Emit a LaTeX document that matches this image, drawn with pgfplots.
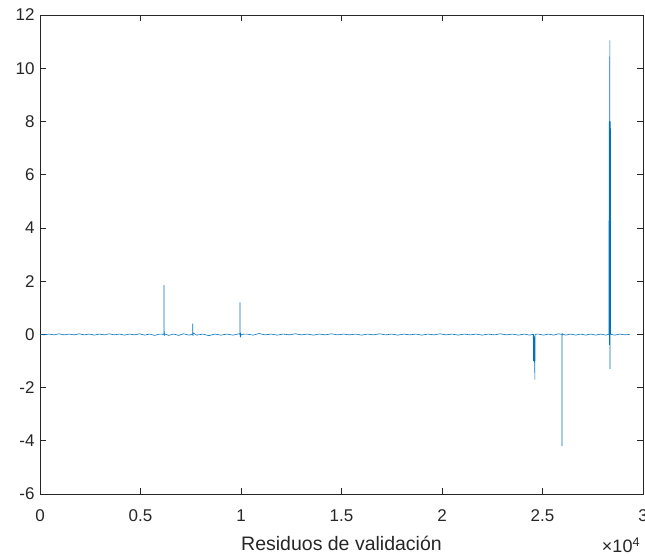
\documentclass[border=0pt]{standalone}
\usepackage{pgfplots}
\pgfplotsset{compat=1.18}
\usepackage{fontspec}
\setmainfont{Liberation Sans}
\definecolor{mblue}{RGB}{0,114,189}
\definecolor{axgray}{RGB}{38,38,38}
\begin{document}
\begin{tikzpicture}
\begin{axis}[
  scale only axis,
  width=603pt, height=479pt,
  xmin=0, xmax=30000, ymin=-6, ymax=12,
  xtick={0,5000,10000,15000,20000,25000,30000},
  xticklabels={0,0.5,1,1.5,2,2.5,3},
  scaled x ticks=false,
  ytick={-6,-4,-2,0,2,4,6,8,10,12},
  /pgf/number format/assume math mode=true,
  tick align=inside,
  major tick length=6pt,
  tick style={axgray, line width=0.6pt},
  axis line style={axgray, line width=0.7pt},
  ticklabel style={font=\fontsize{17}{20}\selectfont, text=axgray},
  xticklabel style={anchor=center, yshift=-22pt},
  yticklabel style={xshift=-2pt},
  xlabel={Residuos de validación},
  xlabel style={font=\fontsize{19.5}{22}\selectfont, text=axgray, at={(rel axis cs:0.5,0)}, anchor=center, yshift=-49pt},
  clip=false,
]
\addplot[mblue, line width=0.6pt] coordinates {
(0,0) (200,-0.02) (450,0.01) (700,-0.02) (950,0.02) (1200,-0.02) (1450,0.01) (1700,-0.02)
(1950,0.02) (2200,-0.02) (2450,0.01) (2700,-0.03) (2950,0.01) (3200,-0.02) (3450,0.02)
(3700,-0.02) (3950,0.01) (4200,-0.03) (4450,0.01) (4700,-0.02) (4950,0.02) (5200,-0.03)
(5450,0.01) (5700,-0.04) (5950,0.01) (6160,0.0) (6170,1.85) (6180,-0.06) (6190,0.02)
(6400,-0.04) (6650,0.01) (6900,-0.04) (7150,0.02) (7400,-0.03) (7590,0.0) (7600,0.4)
(7610,-0.06) (7620,0.05) (7800,-0.03) (8100,0.01) (8400,-0.05) (8700,0.01) (9000,-0.03)
(9300,0.01) (9600,-0.03) (9900,0.02) (9940,0.0) (9950,1.2) (9960,-0.1) (9970,0.06)
(9990,-0.06) (10010,0.0) (10300,0.01) (10600,-0.03) (10900,0.03) (11200,-0.02) (11500,0.01)
(11800,-0.03) (12100,0.01) (12400,-0.02) (12700,0.02) (13000,-0.02) (13300,0.01) (13600,-0.03)
(13900,0.01) (14200,-0.02) (14500,0.02) (14800,-0.02) (15100,0.01) (15400,-0.02) (15700,0.01)
(16000,-0.03) (16300,0.01) (16600,-0.02) (16900,0.02) (17200,-0.02) (17500,0.01) (17800,-0.03)
(18100,0.01) (18400,-0.02) (18700,0.01) (19000,-0.03) (19300,0.01) (19600,-0.02) (19900,0.02)
(20200,-0.02) (20500,0.01) (20800,-0.03) (21100,0.01) (21400,-0.02) (21700,0.01) (22000,-0.03)
(22300,0.01) (22600,-0.02) (22900,0.02) (23200,-0.02) (23500,0.01) (23800,-0.03) (24100,0.01)
(24350,-0.03) (24540,0.0) (24550,-1.0) (24560,0.0) (24570,-1.0) (24580,-0.05) (24590,-1.05)
(24600,-0.1) (24620,-1.7) (24630,0.0) (24800,0.01) (25050,-0.03) (25300,0.01) (25550,-0.03)
(25800,0.02) (25960,0.0) (25970,-4.2) (25980,0.02) (26150,-0.03) (26400,0.01) (26650,-0.03)
(26900,0.01) (27150,-0.03) (27400,0.01) (27650,-0.03) (27900,0.01) (28150,-0.03) (28300,0.0)
(28320,8.0) (28330,-0.4) (28340,8.0) (28350,11.05) (28360,-1.3) (28370,0.5) (28380,8.0)
(28390,0.05) (28400,0.0) (28600,-0.03) (28850,0.01) (29100,-0.02) (29350,0.0)
};
\node[anchor=center, text=axgray, font=\fontsize{18}{20}\selectfont, inner sep=0pt] at ([xshift=-22pt, yshift=-51pt]rel axis cs:1,0) {×10\textsuperscript{4}};
\end{axis}
\pgfresetboundingbox
\path[use as bounding box] ([xshift=-40pt, yshift=-62pt]current axis.south west) rectangle ([xshift=2pt, yshift=15pt]current axis.north east);
\end{tikzpicture}
\end{document}
